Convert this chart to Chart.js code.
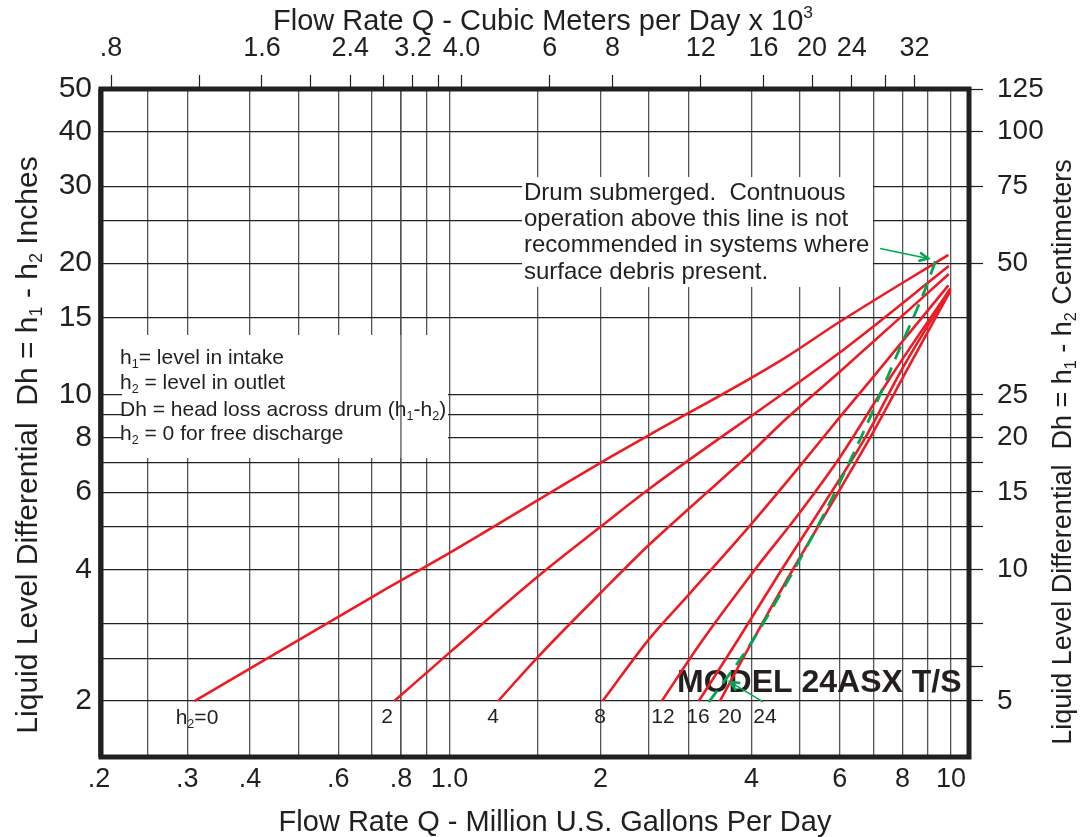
<!DOCTYPE html>
<html>
<head>
<meta charset="utf-8">
<script src="https://cdn.jsdelivr.net/npm/chart.js@4.4.0/dist/chart.umd.min.js"></script>
<style>
  html, body { margin: 0; padding: 0; background: #fff; }
  canvas { display: block; }
</style>
</head>
<body>
<canvas id="chart" width="1080" height="837"></canvas>
<script>
// ---- axis ticks / grid (values only) ----
var xGridValues = [0.2, 0.25, 0.3, 0.4, 0.5, 0.6, 0.7, 0.8, 0.9, 1, 1.5, 2, 2.5, 3, 4, 5, 6, 7, 8, 9, 10];
var xTickValues = [0.2, 0.3, 0.4, 0.6, 0.8, 1, 2, 4, 6, 8, 10];
var xTickLabels = ['.2', '.3', '.4', '.6', '.8', '1.0', '2', '4', '6', '8', '10'];

var topTickValues = [0.8, 1.2, 1.6, 2.0, 2.4, 2.8, 3.2, 3.6, 4.0, 6, 8, 12, 16, 20, 24, 28, 32];
var topTickLabels = ['.8', '', '1.6', '', '2.4', '', '3.2', '', '4.0', '6', '8', '12', '16', '20', '24', '', '32'];

var yGridValues = [50, 40, 30, 25, 20, 15, 10, 9, 8, 7, 6, 5, 4, 3, 2.5, 2];
var yTickValues = [50, 40, 30, 20, 15, 10, 8, 6, 4, 2];
var yTickLabels = ['50', '40', '30', '20', '15', '10', '8', '6', '4', '2'];

var cmTickValues = [125, 100, 75, 50, 25, 22.5, 20, 17.5, 15, 12.5, 10, 7.5, 6, 5];
var cmTickLabels = ['125', '100', '75', '50', '25', '', '20', '', '15', '', '10', '', '', '5'];

var M3_PER_MGD = 3.785;

// ---- curves: Q (MGD) vs Dh (inches), one per outlet level h2 ----
var h2Levels = ['0', '2', '4', '8', '12', '16', '20'];
var q0 = [0.31, 0.73, 1.0, 2.0, 2.5, 4.58, 6.0, 9.88];
var dh0 = [2.0, 3.55, 4.36, 7.0, 8.1, 12.0, 14.7, 20.9];
var q2 = [0.776, 1.0, 1.5, 2.0, 2.5, 4.58, 6.0, 9.9];
var dh2 = [2.0, 2.58, 3.85, 5.0, 6.1, 10.0, 12.5, 19.7];
var q4 = [1.25, 1.5, 2.0, 2.5, 3.0, 4.0, 4.58, 6.0, 9.9];
var dh4 = [2.0, 2.52, 3.53, 4.55, 5.5, 7.4, 8.6, 11.3, 18.9];
var q8 = [2.02, 2.5, 3.0, 4.0, 5.0, 6.0, 7.0, 9.88];
var dh8 = [2.0, 2.77, 3.5, 5.08, 6.89, 8.9, 11.0, 17.8];
var q12 = [2.65, 3.2, 4.07, 5.0, 6.0, 7.7, 9.97];
var dh12 = [2.0, 2.76, 4.0, 5.4, 7.2, 11.3, 17.5];
var q16 = [3.14, 3.76, 4.6, 5.5, 6.75, 8.0, 9.97];
var dh16 = [2.0, 2.76, 4.0, 5.5, 8.0, 11.5, 17.5];
var q20 = [3.46, 4.03, 4.84, 5.7, 6.9, 8.2, 9.97];
var dh20 = [2.0, 2.76, 4.0, 5.5, 8.0, 11.5, 17.3];
// h2 = 24 : drum submerged line (green dashed)
var q24 = [3.29, 3.94, 4.9, 5.68, 6.82, 7.93, 8.82, 9.44];
var dh24 = [1.99, 2.65, 4.05, 5.56, 8.64, 12.9, 17.1, 21.1];

// arrows [tailQ, tailDh, headQ, headDh]
var noteArrow = [7.22, 21.6, 9.0, 20.5];
var label24Arrow = [4.22, 1.99, 3.63, 2.21];

var RED = '#ed1c24';
var GREEN = '#00a651';
var INK = '#231f20';
var FONT = "'Liberation Sans', Arial, Helvetica, sans-serif";

function pts(qs, dhs) {
    return qs.map(function (q, i) { return { x: q, y: dhs[i] }; });
}

function labelFor(values, labels) {
    return function (v) {
        for (var i = 0; i < values.length; i++) {
            if (Math.abs(values[i] - v) < 1e-9) return labels[i];
        }
        return '';
    };
}

function setTicks(values) {
    return function (scale) {
        scale.ticks = values.map(function (v) { return { value: v }; });
    };
}

// draw text with sub / superscript parts: parts = [[text, ''|'sub'|'sup'], ...]
function richText(ctx, parts, x, y, size, align, weight) {
    var w = weight || '';
    var total = 0;
    parts.forEach(function (p) {
        var s = p[1] ? size * 0.6 : size;
        ctx.font = w + ' ' + s + 'px ' + FONT;
        total += ctx.measureText(p[0]).width;
    });
    var cx = align === 'center' ? x - total / 2 : x;
    ctx.textAlign = 'left';
    ctx.textBaseline = 'alphabetic';
    parts.forEach(function (p) {
        var s = p[1] ? size * 0.6 : size;
        var dy = p[1] === 'sub' ? size * 0.18 : (p[1] === 'sup' ? -size * 0.42 : 0);
        ctx.font = w + ' ' + s + 'px ' + FONT;
        ctx.fillText(p[0], cx, y + dy);
        cx += ctx.measureText(p[0]).width;
    });
}

function arrow(ctx, chart, a) {
    var xs = chart.scales.x, ys = chart.scales.y;
    var x1 = xs.getPixelForValue(a[0]), y1 = ys.getPixelForValue(a[1]);
    var x2 = xs.getPixelForValue(a[2]), y2 = ys.getPixelForValue(a[3]);
    var ang = Math.atan2(y2 - y1, x2 - x1);
    ctx.save();
    ctx.strokeStyle = GREEN;
    ctx.lineWidth = 1.5;
    ctx.beginPath();
    ctx.moveTo(x1, y1);
    ctx.lineTo(x2, y2);
    ctx.stroke();
    ctx.lineWidth = 2.5;
    ctx.beginPath();
    ctx.moveTo(x2 - 10 * Math.cos(ang - 0.45), y2 - 10 * Math.sin(ang - 0.45));
    ctx.lineTo(x2, y2);
    ctx.lineTo(x2 - 10 * Math.cos(ang + 0.45), y2 - 10 * Math.sin(ang + 0.45));
    ctx.stroke();
    ctx.restore();
}

var overlay = {
    id: 'overlay',
    beforeDatasetsDraw: function (chart) {
        var ctx = chart.ctx;
        var xs = chart.scales.x, area = chart.chartArea;
        ctx.save();
        // white boxes that hide the grid behind the notes
        ctx.fillStyle = '#fff';
        ctx.fillRect(122, 335, 326, 123);
        ctx.fillRect(522, 177, 351, 110);
        // the .8 grid line runs through the legend box
        var x08 = xs.getPixelForValue(0.8);
        ctx.strokeStyle = '#555';
        ctx.lineWidth = 1.3;
        ctx.beginPath();
        ctx.moveTo(x08, area.top);
        ctx.lineTo(x08, area.bottom);
        ctx.stroke();

        ctx.fillStyle = INK;
        // legend box
        richText(ctx, [['h', ''], ['1', 'sub'], ['= level in intake', '']], 120, 364, 21, 'left');
        richText(ctx, [['h', ''], ['2', 'sub'], [' = level in outlet', '']], 120, 389, 21, 'left');
        richText(ctx, [['Dh = head loss across drum (h', ''], ['1', 'sub'], ['-h', ''], ['2', 'sub'], [')', '']], 120, 416, 21, 'left');
        richText(ctx, [['h', ''], ['2', 'sub'], [' = 0 for free discharge', '']], 120, 440, 21, 'left');

        // submergence note
        var note = ['Drum submerged.  Contnuous', 'operation above this line is not',
                    'recommended in systems where', 'surface debris present.'];
        ctx.font = '24px ' + FONT;
        ctx.textAlign = 'left';
        ctx.textBaseline = 'middle';
        note.forEach(function (t, i) { ctx.fillText(t, 524, 193 + i * 26.3); });

        // model name
        ctx.font = 'bold 32px ' + FONT;
        ctx.textBaseline = 'middle';
        ctx.fillText('MODEL 24ASX T/S', 677, 683);

        // curve labels under Dh = 2
        richText(ctx, [['h', ''], ['2', 'sub'], ['=0', '']], 197, 724, 21, 'center');
        var lbl = [['2', 387], ['4', 493], ['8', 600], ['12', 663], ['16', 698], ['20', 730], ['24', 765]];
        ctx.font = '21px ' + FONT;
        ctx.textAlign = 'center';
        ctx.textBaseline = 'middle';
        lbl.forEach(function (l) { ctx.fillText(l[0], l[1], 717); });
        ctx.restore();
    },
    afterDatasetsDraw: function (chart) {
        var ctx = chart.ctx, a = chart.chartArea;
        arrow(ctx, chart, noteArrow);
        arrow(ctx, chart, label24Arrow);
        ctx.save();
        ctx.strokeStyle = INK;
        ctx.lineWidth = 5;
        ctx.strokeRect(a.left + 2, a.top, a.right - a.left - 3, a.bottom - a.top);
        ctx.restore();
    },
    afterDraw: function (chart) {
        var ctx = chart.ctx;
        ctx.save();
        ctx.fillStyle = INK;
        richText(ctx, [['Flow Rate Q - Cubic Meters per Day x 10', ''], ['3', 'sup']], 543, 30, 29, 'center');
        richText(ctx, [['Flow Rate Q - Million U.S. Gallons Per Day', '']], 555, 831, 29, 'center');
        ctx.translate(37, 445);
        ctx.rotate(-Math.PI / 2);
        richText(ctx, [['Liquid Level Differential  Dh = h', ''], ['1', 'sub'], [' - h', ''], ['2', 'sub'], [' Inches', '']], 0, 0, 30, 'center');
        ctx.restore();
        ctx.save();
        ctx.fillStyle = INK;
        ctx.translate(1071, 452);
        ctx.rotate(-Math.PI / 2);
        richText(ctx, [['Liquid Level Differential  Dh = h', ''], ['1', 'sub'], [' - h', ''], ['2', 'sub'], [' Centimeters', '']], 0, 0, 27, 'center');
        ctx.restore();
    }
};

var redSeries = [[q0, dh0], [q2, dh2], [q4, dh4], [q8, dh8], [q12, dh12], [q16, dh16], [q20, dh20]];
var datasets = redSeries.map(function (s, i) {
    return {
        label: 'h2 = ' + h2Levels[i],
        data: pts(s[0], s[1]),
        showLine: true,
        borderColor: RED,
        borderWidth: 2.6,
        pointRadius: 0,
        cubicInterpolationMode: 'monotone',
        order: 2
    };
});
datasets.push({
    label: 'h2 = 24 (drum submerged)',
    data: pts(q24, dh24),
    showLine: true,
    borderColor: GREEN,
    borderWidth: 2.8,
    borderDash: [14, 9],
    pointRadius: 0,
    cubicInterpolationMode: 'monotone',
    order: 1
});

var X_MIN = 0.2, X_MAX = 10.91;

new Chart(document.getElementById('chart'), {
    type: 'scatter',
    data: { datasets: datasets },
    options: {
        responsive: false,
        devicePixelRatio: 1,
        animation: false,
        layout: { padding: 0, autoPadding: false },
        plugins: { legend: { display: false }, tooltip: { enabled: false } },
        scales: {
            x: {
                type: 'logarithmic',
                position: 'bottom',
                min: X_MIN,
                max: X_MAX,
                afterBuildTicks: setTicks(xGridValues),
                afterFit: function (s) { s.height = 80; },
                grid: { color: '#555', lineWidth: 1.3, drawTicks: false },
                border: { display: false },
                ticks: {
                    callback: labelFor(xTickValues, xTickLabels),
                    autoSkip: false, maxRotation: 0, padding: 6,
                    color: INK, font: { family: FONT, size: 27 }
                }
            },
            x2: {
                type: 'logarithmic',
                position: 'top',
                min: X_MIN * M3_PER_MGD,
                max: X_MAX * M3_PER_MGD,
                afterBuildTicks: setTicks(topTickValues),
                afterFit: function (s) { s.height = 89; },
                grid: { drawOnChartArea: false, drawTicks: true, tickLength: 14, tickColor: INK, tickWidth: 1.2 },
                border: { display: false },
                ticks: {
                    callback: labelFor(topTickValues, topTickLabels),
                    autoSkip: false, maxRotation: 0, padding: 10,
                    color: INK, font: { family: FONT, size: 27 }
                }
            },
            y: {
                type: 'logarithmic',
                position: 'left',
                min: 1.49,
                max: 50,
                afterBuildTicks: setTicks(yGridValues),
                afterFit: function (s) { s.width = 99; },
                grid: { color: '#222', lineWidth: 1.2, drawTicks: false },
                border: { display: false },
                ticks: {
                    callback: labelFor(yTickValues, yTickLabels),
                    autoSkip: false, padding: 7,
                    color: INK, font: { family: FONT, size: 30 }
                }
            },
            y2: {
                type: 'logarithmic',
                position: 'right',
                min: 3.72,
                max: 125,
                afterBuildTicks: setTicks(cmTickValues),
                afterFit: function (s) { s.width = 110; },
                grid: { drawOnChartArea: false, drawTicks: true, tickLength: 13, tickColor: INK, tickWidth: 1.2 },
                border: { display: false },
                ticks: {
                    callback: labelFor(cmTickValues, cmTickLabels),
                    autoSkip: false, padding: 14,
                    color: INK, font: { family: FONT, size: 28 }
                }
            }
        }
    },
    plugins: [overlay]
});
</script>
</body>
</html>
